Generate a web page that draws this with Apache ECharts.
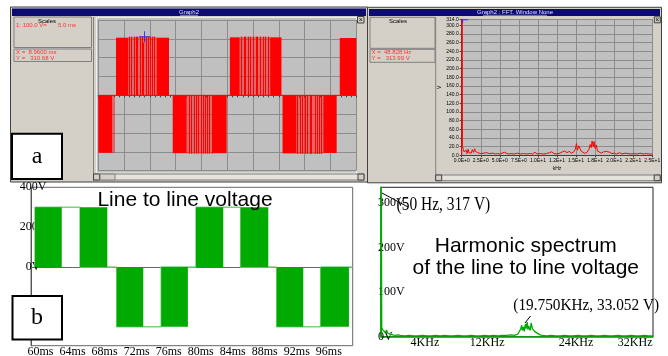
<!DOCTYPE html>
<html><head><meta charset="utf-8">
<script src="https://cdn.jsdelivr.net/npm/echarts@6/dist/echarts.min.js"></script>
<style>html,body{margin:0;padding:0;background:#fff}#c{width:668px;height:356px}</style>
</head><body><div id="c"></div>
<script>
// ================= DATA =================
// (a) top-left: simulated PWM line-to-line voltage, time in ms, volts
const simDenseBlocks = [
  [0.00, 2.65, -305], [3.43, 5.81, 306], [11.28, 13.70, 306],
  [14.42, 17.13, -307], [22.20, 24.88, -307], [25.50, 27.40, 308],
  [33.30, 35.50, 308], [35.70, 38.40, -308], [43.60, 46.20, -306],
  [46.80, 50.00, 305]
];
const simSparseBlocks = [
  [2.65, 3.24, -305], [5.81, 11.28, 311], [17.13, 22.20, -309],
  [27.40, 33.30, 311], [38.40, 43.60, -310]
];
const simPulseTimes = [5.99, 6.40, 6.86, 7.25, 7.56, 8.02, 8.41, 8.72, 9.24, 9.69, 10.08, 10.47, 10.85,
  17.52, 17.97, 18.55, 18.93, 19.38, 19.90, 20.35, 20.74, 21.12, 21.51, 21.98,
  27.6, 28.2, 28.5, 29.1, 29.4, 30.0, 30.5, 30.8, 31.4, 31.9, 32.3, 32.9,
  38.6, 39.1, 39.5, 40.0, 40.4, 41.0, 41.3, 41.9, 42.3, 42.8, 43.2];
const simPulseLevels = [311, 311, 311, 311, 311, 311, 311, 280, 311, 311, 311, 311, 311,
  -309, -309, -309, -309, -309, -309, -309, -309, -309, -309, -309,
  311, 311, 311, 311, 311, 311, 311, 311, 311, 311, 311, 311,
  -310, -310, -310, -310, -310, -310, -310, -310, -310, -310, -310];
const simZeroTrace = [[0, 0], [50, 0]];
const simCursor = [8.96, 310.68];

// (a) top-right: FFT of simulated voltage, kHz / volts
const fftTickLabels = ['0.0E+0','2.5E+0','5.0E+0','7.5E+0','1.0E+1','1.2E+1','1.5E+1','1.8E+1','2.0E+1','2.2E+1','2.5E+1'];
const fftFreqKHz = [0, 0.049, 0.098, 0.2, 0.3, 0.45, 0.6, 0.7, 0.85, 0.95, 1.1, 1.25, 1.4, 1.55, 1.7, 1.8, 1.95, 2.1, 2.3, 2.5,
  2.7, 2.9, 3.1, 3.3, 3.5, 3.6, 3.8, 4.1, 4.4, 4.7, 5.0, 5.3, 5.6, 5.8, 6.1, 6.5, 6.9, 7.3, 7.7, 8.1,
  8.5, 8.9, 9.3, 9.6, 9.9, 10.3, 10.7, 11.1, 11.5, 11.8, 12.1, 12.5, 12.9, 13.2, 13.5, 13.8, 14.1, 14.4, 14.7, 14.9,
  15.05, 15.2, 15.35, 15.5, 15.7, 15.9, 16.1, 16.4, 16.7, 16.85, 17.0, 17.1, 17.25, 17.35, 17.5, 17.65, 17.8, 18.0, 18.3, 18.6,
  18.8, 19.0, 19.2, 19.4, 19.7, 20.0, 20.3, 20.7, 21.0, 21.4, 21.8, 22.2, 22.6, 23.0, 23.4, 23.8, 24.2, 24.6, 25.0];
const fftVolts = [0, 314, 22, 14, 8, 5, 12, 4, 14, 6, 9, 5, 13, 7, 15, 9, 12, 6, 8, 4,
  3, 5, 3, 6, 9, 4, 3, 5, 3, 4, 3, 5, 7, 4, 3, 4, 3, 5, 3, 4,
  3, 4, 3, 7, 3, 4, 3, 4, 6, 8, 4, 3, 5, 8, 10, 6, 9, 5, 8, 14,
  27, 12, 22, 18, 9, 12, 5, 6, 14, 25, 18, 33, 20, 32, 16, 24, 10, 7, 5, 8,
  11, 9, 12, 7, 4, 5, 3, 6, 3, 5, 4, 3, 4, 3, 5, 3, 4, 3, 3];
const fftCursor = [0.048828, 313.99];

// (b) bottom-left: line to line voltage, ms / volts
const llTimeTicks = [60, 64, 68, 72, 76, 80, 84, 88, 92, 96];
const llVoltTicks = [0, 200, 400];
const llBlocks = [
  [59.31, 62.65, 300], [64.93, 68.34, 300], [69.51, 72.83, -300], [75.07, 78.40, -300],
  [79.41, 82.82, 300], [84.99, 88.44, 300], [89.49, 92.81, -300], [94.98, 98.51, -300]
];
const llTraceT = [59.31, 59.31, 64.93, 64.93, 69.51, 69.51, 75.07, 75.07, 79.41, 79.41, 84.99, 84.99, 89.49, 89.49, 94.98, 94.98, 98.98];
const llTraceV = [0, 300, 300, 0, 0, -300, -300, 0, 0, 300, 300, 0, 0, -300, -300, 0, 0];

// (b) bottom-right: harmonic spectrum, kHz / volts
const specFreqTicks = [4, 12, 24, 32];
const specVoltTicks = [0, 100, 200, 300];
const specFreqKHz = [0, 0.05, 0.1, 0.2, 0.3, 0.45, 0.6, 0.75, 0.9, 1.05, 1.2, 1.4, 1.6, 1.8, 2.0, 2.3,
  2.6, 3.2, 3.8, 4.4, 5.0, 5.6, 6.2, 6.8, 7.4, 8.0, 8.6, 9.2, 9.8, 10.4, 11.0, 11.6, 12.2, 12.8, 13.4, 14.0,
  14.6, 15.2, 15.8, 16.4, 17.0, 17.6, 18.0, 18.2, 18.5, 18.7, 18.9, 19.0, 19.1, 19.25, 19.35, 19.5, 19.6, 19.75,
  19.85, 19.95, 20.05, 20.15, 20.3, 20.45, 20.6, 20.75, 20.9, 21.1, 21.3, 21.5, 21.8, 22.4, 23.0, 23.6, 24.2, 24.8,
  25.4, 26.0, 26.6, 27.2, 27.8, 28.4, 29.0, 29.6, 30.2, 30.8, 31.4, 32.0, 32.6, 33.2, 33.8, 34.4, 35.0, 35.6, 36.2, 36.75];
const specVolts = [0, 317, 20, 24, 14, 18, 10, 15, 8, 11, 6, 8, 4, 6, 3, 4,
  3, 2, 3, 2, 2, 3, 2, 2, 3, 2, 3, 2, 2, 3, 2, 2, 3, 2, 2, 3,
  2, 3, 2, 3, 3, 4, 3, 3, 6, 10, 18, 26, 14, 22, 12, 28, 18, 33,
  16, 24, 28, 14, 31, 18, 22, 12, 14, 8, 6, 4, 3, 2, 3, 2, 2, 3,
  2, 2, 3, 2, 2, 3, 2, 2, 3, 2, 2, 3, 2, 2, 3, 2, 2, 3, 2, 2];

// ================= CHART =================
const zip = (a, b) => a.map((v, i) => [v, b[i]]);
const SERIF = '"Liberation Serif", "Times New Roman", serif';
const SANS = '"Liberation Sans", Arial, sans-serif';
const RED = '#ff0000', GREEN = '#00aa00';

function rectRenderer(fill, opacity) {
  return function (params, api) {
    const a = api.coord([api.value(0), 0]);
    const b = api.coord([api.value(1), api.value(2)]);
    return { type: 'rect',
      shape: { x: a[0], y: Math.min(a[1], b[1]), width: b[0] - a[0], height: Math.abs(b[1] - a[1]) },
      style: { fill: fill, opacity: opacity } };
  };
}
function pulseRenderer(params, api) {
  const a = api.coord([api.value(0), 0]);
  const b = api.coord([api.value(0), api.value(1)]);
  const x = Math.round(a[0]) + 0.5;
  return { type: 'line', shape: { x1: x, y1: a[1], x2: x, y2: b[1] }, style: { stroke: RED, lineWidth: 1 } };
}

const G = [];
function rect(x, y, w, h, fill, stroke, lw, z) {
  G.push({ type: 'rect', z: z === undefined ? -10 : z, silent: true, shape: { x, y, width: w, height: h },
    style: { fill: fill || 'none', stroke: stroke || 'none', lineWidth: lw || 1 } });
}
function line(x1, y1, x2, y2, stroke, lw, z) {
  G.push({ type: 'line', z: z === undefined ? -9 : z, silent: true, shape: { x1, y1, x2, y2 }, style: { stroke, lineWidth: lw || 1 } });
}
function text(x, y, t, font, fill, align, z, scaleX) {
  G.push({ type: 'text', z: z === undefined ? -8 : z, silent: true, x, y, scaleX: scaleX || 1,
    style: { text: t, font, fill: fill || '#000', align: align || 'left', verticalAlign: 'middle' } });
}
const UI = '6px ' + SANS;
const NAVY = '#0c0c70', PANEL = '#d4d0c8', DARK = '#404040', MID = '#808080';

// ---- top-left window ----
rect(10.5, 7, 357, 175, PANEL, DARK, 1);
rect(12, 8.5, 354, 7.5, NAVY);
text(189, 12.2, 'Graph2', UI, '#e0e0ff', 'center');
line(180, 15.3, 198, 15.3, '#e0e0ff', 0.6);
rect(14, 17, 77.5, 30.5, null, MID, 1);
text(47, 21, 'Scales', UI, '#000', 'center');
text(16, 25.5, '1: 100.0 V=', UI, '#ff3030');
text(58, 25.5, '5.0 ms', UI, '#ff3030');
rect(14, 49, 77.5, 12.5, null, MID, 1);
text(16, 52.5, 'X =  8.9600 ms', UI, '#ff3030');
text(16, 58.5, 'Y =   310.68 V', UI, '#ff3030');
line(93.5, 17, 93.5, 181, MID, 1);
rect(96.5, 17.5, 260, 155.5, '#c0c0c0', '#eeeeee', 1);
rect(357.5, 16.5, 6.5, 6.5, PANEL, DARK, 1, -7);
text(360.8, 19.8, '×', '7px ' + SANS, '#000', 'center', -6);
rect(93.5, 174, 270.5, 6, '#e6e3dc', MID, 1);
rect(93.5, 174, 6, 6, PANEL, DARK, 1, -7);
rect(100, 174, 15, 6, PANEL, MID, 1, -7);
rect(358, 174, 6, 6, PANEL, DARK, 1, -7);

// ---- top-right window ----
rect(367.5, 7.3, 294, 175.5, PANEL, DARK, 1);
rect(369, 9, 291, 7, NAVY);
text(515, 12.4, 'Graph2 : FFT. Window None', UI, '#e0e0ff', 'center');
line(483, 15.3, 547, 15.3, '#e0e0ff', 0.6);
rect(370, 17.3, 65, 31, null, MID, 1);
text(398, 21.5, 'Scales', UI, '#000', 'center');
rect(370, 49.3, 65, 13, null, MID, 1);
text(371.5, 52.8, 'X =  48.828 Hz', UI, '#ff3030');
text(371.5, 58.8, 'Y =   313.99 V', UI, '#ff3030');
line(435.7, 17, 435.7, 181, MID, 1);
rect(654.3, 16.8, 6, 6, PANEL, DARK, 1, -7);
text(657.3, 19.8, '×', '7px ' + SANS, '#000', 'center', -6);
rect(435.7, 175, 224.5, 5.7, '#e6e3dc', MID, 1);
rect(435.7, 175, 6, 5.7, PANEL, DARK, 1, -7);
rect(654.2, 175, 6, 5.7, PANEL, DARK, 1, -7);

// ---- panel labels ----
rect(12, 133.7, 50, 45.3, '#fff', '#000', 2, 100);
text(37, 157, 'a', '24px ' + SERIF, '#000', 'center', 101);
rect(12.5, 296, 49.5, 43.5, '#fff', '#000', 2, 100);
text(37, 318, 'b', '24px ' + SERIF, '#000', 'center', 101);

// ---- titles & annotations of bottom charts ----
text(185, 200, 'Line to line voltage', '21px ' + SANS, '#000', 'center', 50);
text(525.8, 246.5, 'Harmonic spectrum', '21px ' + SANS, '#000', 'center', 50);
text(525.8, 268.5, 'of the line to line voltage', '21px ' + SANS, '#000', 'center', 50);
text(396.5, 205, '(50 Hz, 317 V)', '18px ' + SERIF, '#000', 'left', 50, 0.86);
line(382, 193, 408, 207, '#000', 1, 50);
text(513.3, 306, '(19.750KHz, 33.052 V)', '17px ' + SERIF, '#000', 'left', 50, 0.9);
line(525, 323, 530.5, 316, '#000', 1, 50);

const option = {
  animation: false,
  backgroundColor: '#ffffff',
  textStyle: { fontFamily: SANS },
  grid: [
    { left: 98.3, top: 20, width: 258, height: 150.7, outerBoundsMode: 'none', containLabel: false },
    { left: 461.7, top: 19.3, width: 190.6, height: 136, outerBoundsMode: 'none', containLabel: false, show: true, backgroundColor: '#c0c0c0', borderWidth: 0 },
    { left: 31, top: 187.3, width: 321.7, height: 158.4, outerBoundsMode: 'none', containLabel: false, show: true, borderColor: '#666', borderWidth: 1 },
    { left: 381, top: 187.3, width: 272, height: 149.4, outerBoundsMode: 'none', containLabel: false, show: true, borderColor: '#222', borderWidth: 1 }
  ],
  xAxis: [
    { gridIndex: 0, type: 'value', min: 0, max: 50, interval: 5,
      axisLine: { onZero: true, lineStyle: { color: '#8c8c8c' } },
      axisTick: { show: true, length: 2, lineStyle: { color: '#404040' } },
      minorTick: { show: true, splitNumber: 5, length: 2, lineStyle: { color: '#404040' } },
      axisLabel: { show: false },
      splitLine: { show: true, lineStyle: { color: '#8c8c8c', width: 1 } } },
    { gridIndex: 1, type: 'value', min: 0, max: 25, interval: 2.5,
      axisLine: { lineStyle: { color: '#404040' } },
      axisTick: { length: 2, lineStyle: { color: '#404040' } },
      axisLabel: { fontSize: 5, margin: 3, color: '#000', formatter: v => fftTickLabels[Math.round(v / 2.5)] },
      splitLine: { show: true, lineStyle: { color: '#8c8c8c' } },
      name: 'kHz', nameLocation: 'middle', nameGap: 11, nameTextStyle: { fontSize: 5, color: '#000' } },
    { gridIndex: 2, type: 'value', min: 58.81, max: 98.98,
      axisLine: { lineStyle: { color: '#666' } },
      axisTick: { show: false },
      axisLabel: { customValues: llTimeTicks, formatter: v => v + 'ms', margin: 0, fontFamily: SERIF, fontSize: 12, color: '#000' },
      splitLine: { show: false } },
    { gridIndex: 3, type: 'value', min: 0, max: 36.75,
      axisLine: { lineStyle: { color: GREEN, width: 1.5 } },
      axisTick: { show: false },
      axisLabel: { customValues: specFreqTicks, formatter: v => v + 'KHz', align: 'left', margin: 0, fontFamily: SERIF, fontSize: 12, color: '#000' },
      splitLine: { show: false } }
  ],
  yAxis: [
    { gridIndex: 0, type: 'value', min: -400, max: 400, interval: 100,
      axisLine: { show: false }, axisTick: { show: false }, axisLabel: { show: false },
      splitLine: { show: true, lineStyle: { color: '#8c8c8c' } } },
    { gridIndex: 1, type: 'value', min: 0, max: 314, interval: 20,
      axisLine: { show: true, lineStyle: { color: '#404040' } },
      axisTick: { show: true, length: 2, lineStyle: { color: '#404040' } },
      axisLabel: { fontSize: 5, margin: 3, color: '#000', formatter: v => v.toFixed(1) },
      splitLine: { show: true, lineStyle: { color: '#8c8c8c' } },
      name: 'V', nameLocation: 'middle', nameGap: 17, nameRotate: 90, nameTextStyle: { fontSize: 5, color: '#000' } },
    { gridIndex: 2, type: 'value', min: -395, max: 400,
      axisLine: { show: true, lineStyle: { color: '#555' } }, axisTick: { show: false },
      axisLabel: { customValues: llVoltTicks, formatter: v => v + 'V', align: 'center', margin: -2, fontFamily: SERIF, fontSize: 12, color: '#000' },
      splitLine: { show: false } },
    { gridIndex: 3, type: 'value', min: 0, max: 335,
      axisLine: { show: true, lineStyle: { color: GREEN, width: 1.5 } }, axisTick: { show: false },
      axisLabel: { customValues: specVoltTicks, formatter: v => v + 'V', align: 'left', margin: 3, fontFamily: SERIF, fontSize: 12, color: '#000' },
      splitLine: { show: false } }
  ],
  series: [
    // (a) simulated waveform
    { type: 'line', xAxisIndex: 0, yAxisIndex: 0, data: simZeroTrace, showSymbol: false, lineStyle: { color: RED, width: 1 }, z: 2 },
    { type: 'custom', xAxisIndex: 0, yAxisIndex: 0, renderItem: rectRenderer(RED, 0.45), encode: { x: [0, 1], y: 2 }, data: simSparseBlocks, z: 3 },
    { type: 'custom', xAxisIndex: 0, yAxisIndex: 0, renderItem: pulseRenderer, encode: { x: 0, y: 1 }, data: zip(simPulseTimes, simPulseLevels), z: 4 },
    { type: 'custom', xAxisIndex: 0, yAxisIndex: 0, renderItem: rectRenderer(RED, 1), encode: { x: [0, 1], y: 2 }, data: simDenseBlocks, z: 5 },
    { type: 'scatter', xAxisIndex: 0, yAxisIndex: 0, data: [simCursor], symbol: 'path://M0,5h11v1h-11z M5,0h1v11h-1z', symbolSize: [11, 11], itemStyle: { color: '#1a1aff' }, z: 10 },
    // (a) FFT
    { type: 'line', xAxisIndex: 1, yAxisIndex: 1, data: zip(fftFreqKHz, fftVolts), showSymbol: false, lineStyle: { color: RED, width: 1 }, z: 3 },
    { type: 'scatter', xAxisIndex: 1, yAxisIndex: 1, data: [fftCursor], symbol: 'path://M0,0h6v1h-6z M0,0h1v4h-1z', symbolSize: [6, 4], symbolOffset: [3, 2], itemStyle: { color: '#1a1aff' }, z: 10 },
    // (b) line to line voltage
    { type: 'line', xAxisIndex: 2, yAxisIndex: 2, data: zip(llTraceT, llTraceV), showSymbol: false, lineStyle: { color: '#80d080', width: 1.5 }, z: 3 },
    { type: 'custom', xAxisIndex: 2, yAxisIndex: 2, renderItem: rectRenderer(GREEN, 1), encode: { x: [0, 1], y: 2 }, data: llBlocks, z: 4 },
    // (b) harmonic spectrum
    { type: 'line', xAxisIndex: 3, yAxisIndex: 3, data: zip(specFreqKHz, specVolts), showSymbol: false, lineStyle: { color: GREEN, width: 1.3 }, z: 3 }
  ],
  graphic: { elements: G }
};
const chart = echarts.init(document.getElementById('c'), null, { renderer: 'canvas' });
chart.setOption(option);
</script></body></html>
